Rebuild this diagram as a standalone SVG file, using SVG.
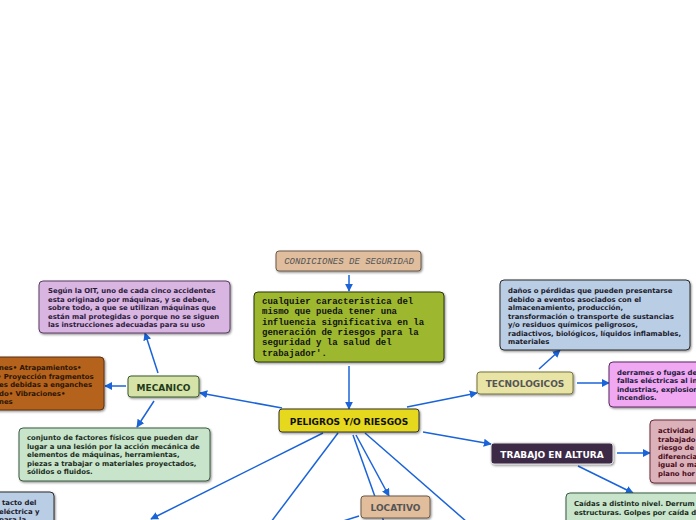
<svg xmlns="http://www.w3.org/2000/svg" width="696" height="520" viewBox="0 0 696 520">
<style>
.c{fill:none;stroke:#1a63d8;stroke-width:1.5}
.b{stroke-width:1}
.t{font-family:"DejaVu Sans",Verdana,sans-serif;font-weight:bold;font-size:6.9px}
.h{font-family:"DejaVu Sans",Verdana,sans-serif;font-weight:bold;font-size:9px;text-anchor:middle}
.m{font-family:"Liberation Mono","Courier New",monospace;font-size:9px}
</style>
<defs>
<marker id="a" viewBox="0 0 10 10" refX="9" refY="5" markerWidth="8" markerHeight="8" markerUnits="userSpaceOnUse" orient="auto">
<path d="M0,0 L10,5 L0,10 z" fill="#1a63d8"/>
</marker>
<filter id="s" x="-10%" y="-10%" width="120%" height="130%">
<feDropShadow dx="1" dy="1.2" stdDeviation="0.8" flood-color="#000" flood-opacity="0.45"/>
</filter>
</defs>
<rect width="696" height="520" fill="#fff"/>
<g id="connectors">
<line class="c" x1="349" y1="275" x2="349" y2="291" marker-end="url(#a)"/>
<line class="c" x1="349" y1="366" x2="349" y2="409" marker-end="url(#a)"/>
<line class="c" x1="282" y1="408" x2="200" y2="393" marker-end="url(#a)"/>
<line class="c" x1="158" y1="373" x2="145" y2="333" marker-end="url(#a)"/>
<line class="c" x1="126" y1="386" x2="105" y2="386" marker-end="url(#a)"/>
<line class="c" x1="154" y1="401" x2="137" y2="427" marker-end="url(#a)"/>
<line class="c" x1="407" y1="407" x2="477" y2="393" marker-end="url(#a)"/>
<line class="c" x1="539" y1="369" x2="560" y2="350" marker-end="url(#a)"/>
<line class="c" x1="577" y1="383" x2="609" y2="383" marker-end="url(#a)"/>
<line class="c" x1="423" y1="432" x2="491" y2="444" marker-end="url(#a)"/>
<line class="c" x1="617" y1="453" x2="650" y2="453" marker-end="url(#a)"/>
<line class="c" x1="578" y1="466" x2="633" y2="493" marker-end="url(#a)"/>
<line class="c" x1="356" y1="435" x2="389" y2="496" marker-end="url(#a)"/>
<line class="c" x1="353" y1="435" x2="384" y2="522"/>
<line class="c" x1="359" y1="516" x2="340" y2="522"/>
<line class="c" x1="323" y1="433" x2="151" y2="519" marker-end="url(#a)"/>
<line class="c" x1="338" y1="433" x2="271" y2="522"/>
<line class="c" x1="365" y1="433" x2="467" y2="522"/>
</g>
<g id="condiciones">
<rect class="b" x="276" y="251" width="145" height="20" rx="3" fill="#dfbd9d" stroke="#6b5a4a" filter="url(#s)"/>
<text class="m" x="349" y="264" text-anchor="middle" font-style="italic" fill="#555">CONDICIONES DE SEGURIDAD</text>
</g>
<g id="definicion">
<rect class="b" x="254" y="292" width="190" height="70" rx="4" fill="#9db82d" stroke="#2a3510" filter="url(#s)"/>
<text class="m" font-weight="bold" fill="#111">
<tspan x="262" y="304">cualquier caracteristica del</tspan>
<tspan x="262" y="314.3">mismo que pueda tener una</tspan>
<tspan x="262" y="324.6">influencia significativa en la</tspan>
<tspan x="262" y="334.9">generación de riesgos para la</tspan>
<tspan x="262" y="345.2">seguridad y la salud del</tspan>
<tspan x="262" y="355.5">trabajador'.</tspan>
</text>
</g>
<g id="peligros">
<rect class="b" x="279" y="409" width="140" height="23" rx="3" fill="#e6d81e" stroke="#333" filter="url(#s)"/>
<text class="h" x="349" y="424.5" fill="#111">PELIGROS Y/O RIESGOS</text>
</g>
<g id="mecanico">
<rect class="b" x="128" y="376" width="71" height="21" rx="3" fill="#d5e2a8" stroke="#3a5a2a" filter="url(#s)"/>
<text class="h" x="163.5" y="390.5" fill="#1f3a1a">MECANICO</text>
</g>
<g id="oit">
<rect class="b" x="39" y="281" width="191" height="52" rx="4" fill="#d9b5e2" stroke="#5a3c63" filter="url(#s)"/>
<text class="t" fill="#2a1a3a">
<tspan x="48" y="293">Según la OIT, uno de cada cinco accidentes</tspan>
<tspan x="48" y="301.5">esta originado por máquinas, y se deben,</tspan>
<tspan x="48" y="310">sobre todo, a que se utilizan máquinas que</tspan>
<tspan x="48" y="318.5">están mal protegidas o porque no se siguen</tspan>
<tspan x="48" y="327">las instrucciones adecuadas para su uso</tspan>
</text>
</g>
<g id="lesiones">
<rect class="b" x="-90" y="357" width="194" height="53" rx="4" fill="#b5621d" stroke="#5a3010" filter="url(#s)"/>
<text class="t" fill="#2a1505">
<tspan x="-1" y="370">nes• Atrapamientos•</tspan>
<tspan x="-3" y="378.5">• Proyección fragmentos</tspan>
<tspan x="-1" y="387">es debidas a enganches</tspan>
<tspan x="-1" y="395.5">do• Vibraciones•</tspan>
<tspan x="-1" y="404">nes</tspan>
</text>
</g>
<g id="conjunto">
<rect class="b" x="19" y="428" width="191" height="53" rx="4" fill="#c8e5cc" stroke="#3a5a40" filter="url(#s)"/>
<text class="t" fill="#1a2a1a">
<tspan x="27" y="440">conjunto de factores físicos que pueden dar</tspan>
<tspan x="27" y="448.5">lugar a una lesión por la acción mecánica de</tspan>
<tspan x="27" y="457">elementos de máquinas, herramientas,</tspan>
<tspan x="27" y="465.5">piezas a trabajar o materiales proyectados,</tspan>
<tspan x="27" y="474">sólidos o fluidos.</tspan>
</text>
</g>
<g id="tecnologicos">
<rect class="b" x="477" y="372" width="96" height="22" rx="3" fill="#e8e4a5" stroke="#77733a" filter="url(#s)"/>
<text class="h" x="525" y="386.5" fill="#555">TECNOLOGICOS</text>
</g>
<g id="danos">
<rect class="b" x="500" y="280" width="190" height="70" rx="4" fill="#b9cde5" stroke="#2a2a2a" filter="url(#s)"/>
<text class="t" fill="#1a1a2a">
<tspan x="508" y="293">daños o pérdidas que pueden presentarse</tspan>
<tspan x="508" y="301.5">debido a eventos asociados con el</tspan>
<tspan x="508" y="310">almacenamiento, producción,</tspan>
<tspan x="508" y="318.5">transformación o transporte de sustancias</tspan>
<tspan x="508" y="327">y/o residuos químicos peligrosos,</tspan>
<tspan x="508" y="335.5">radiactivos, biológicos, líquidos inflamables,</tspan>
<tspan x="508" y="344">materiales</tspan>
</text>
</g>
<g id="derrames">
<rect class="b" x="609" y="362" width="120" height="45" rx="4" fill="#f0a8f2" stroke="#5a2a60" filter="url(#s)"/>
<text class="t" fill="#1a1a3a">
<tspan x="617" y="374.5">derrames o fugas de</tspan>
<tspan x="617" y="383">fallas eléctricas al in</tspan>
<tspan x="617" y="391.5">industrias, explosion</tspan>
<tspan x="617" y="400">incendios.</tspan>
</text>
</g>
<g id="altura">
<rect class="b" x="491" y="443" width="122" height="21" rx="3" fill="#3e2b46" stroke="#ddd" filter="url(#s)"/>
<text class="h" x="552" y="457.5" fill="#fff">TRABAJO EN ALTURA</text>
</g>
<g id="actividad">
<rect class="b" x="650" y="420" width="80" height="63" rx="4" fill="#dbb2ba" stroke="#6a2a3a" filter="url(#s)"/>
<text class="t" fill="#4a0a1a">
<tspan x="658" y="433">actividad</tspan>
<tspan x="658" y="441.5">trabajado</tspan>
<tspan x="658" y="450">riesgo de</tspan>
<tspan x="658" y="458.5">diferencia</tspan>
<tspan x="658" y="467">igual o ma</tspan>
<tspan x="658" y="475.5">plano hor</tspan>
</text>
</g>
<g id="caidas">
<rect class="b" x="566" y="493" width="180" height="40" rx="4" fill="#c8e5cc" stroke="#3a5a40" filter="url(#s)"/>
<text class="t" fill="#1a2a1a">
<tspan x="574" y="506">Caídas a distinto nivel. Derrum</tspan>
<tspan x="574" y="515">estructuras. Golpes por caída d</tspan>
</text>
</g>
<g id="locativo">
<rect class="b" x="361" y="496" width="69" height="22" rx="3" fill="#e2bd9c" stroke="#6b5a4a" filter="url(#s)"/>
<text class="h" x="395.5" y="510.5" fill="#555">LOCATIVO</text>
</g>
<g id="electrico">
<rect class="b" x="-40" y="492" width="94" height="40" rx="4" fill="#b9cde5" stroke="#2a2a2a" filter="url(#s)"/>
<text class="t" fill="#1a1a2a">
<tspan x="2" y="505">tacto del</tspan>
<tspan x="-1" y="513.5">eléctrica y</tspan>
<tspan x="-1" y="522">para la</tspan>
</text>
</g>
</svg>
